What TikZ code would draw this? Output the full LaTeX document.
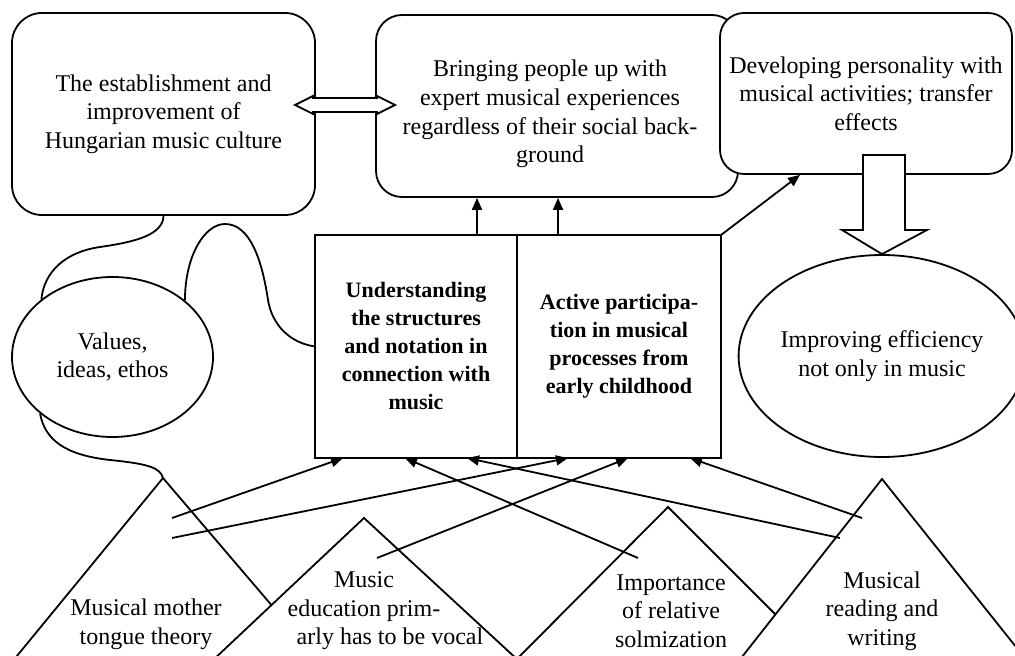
\documentclass[tikz,border=0pt]{standalone}
\usepackage{fontspec}
\setmainfont{Liberation Serif}
\usepackage{tikz}
\usetikzlibrary{positioning, shapes.geometric, arrows.meta}

\begin{document}
\begin{tikzpicture}[
    x=0.5pt, y=-0.5pt,
    line width=0.9pt,
    txt/.style={align=center, inner sep=0pt, font=\fontsize{12}{14.3}\selectfont},
    goal/.style={txt, draw, fill=white, rounded corners=13pt},
    oval/.style={txt, draw, fill=white, ellipse},
    core/.style={txt, draw, rectangle, outer sep=0pt, minimum height=111.5pt, font=\bfseries\fontsize{11}{14}\selectfont},
    tri/.style={draw, fill=white},
    block/.style={draw, fill=white},
    arrow/.style={-{Triangle[length=6pt, width=5pt]}}
]
    \clip (0,0) rectangle (1015,656);

    \node[goal, minimum width=151.5pt, minimum height=101pt, rounded corners=15pt] (culture) at (163.5,114) {The establishment and\\improvement of\\Hungarian music culture};
    \node[goal, minimum width=181pt, minimum height=91pt] (bringing) at (557,106) {};
    \node[txt] (bringingtxt) at (550,114) {Bringing people up with\\expert musical experiences\\regardless of their social back-\\ground};
    \node[goal, minimum width=146pt, minimum height=80.5pt, rounded corners=12pt] (personality) at (866,93.5) {Developing personality with\\musical activities; transfer\\effects};

    \node[core, minimum width=101pt] (notation) at (416,346.5) {Understanding\\the structures\\and notation in\\connection with\\music};
    \node[core, minimum width=102pt, right=0pt of notation] (participation) {Active participa-\\tion in musical\\processes from\\early childhood};

    \node[oval, minimum width=100.5pt, minimum height=80pt] (values) at (112.5,357) {Values,\\ideas, ethos};
    \node[oval, minimum width=139pt, minimum height=101pt] (efficiency) at (882,356) {Improving efficiency\\not only in music};

    \draw (culture.south) .. controls (163,235) and (135,242) .. (100,247) .. controls (65,252) and (44,272) .. (values.141);
    \draw (values.38) .. controls (185,255) and (205,224) .. (225,224) .. controls (250,224) and (262,260) .. (268,300) .. controls (272,325) and (290,343) .. (notation.west);
    \draw (values.218) .. controls (45,440) and (65,455) .. (110,460) .. controls (150,464) and (160,468) .. (163,478);

    \coordinate (mother) at (163,478);
    \coordinate (vocal) at (364,518);
    \coordinate (solfa) at (668,507);
    \coordinate (reading) at (882,479);
    \draw[tri] (12,662) -- (mother) -- (320,662);
    \draw[tri] (211,662) -- (vocal) -- (520,662);
    \draw[tri] (514,662) -- (solfa) -- (823,662);
    \draw[tri] (738,662) -- (reading) -- (1028,662);

    \node[txt] (mothertxt) at (146,624) {Musical mother\\tongue theory};
    \node[txt] (vocaltxt) at (364,611) {Music\\education prim-\\\hspace*{26pt}arly has to be vocal};
    \node[txt] (solfatxt) at (671,611) {Importance\\of relative\\solmization};
    \node[txt] (readingtxt) at (882,611) {Musical\\reading and\\writing};

    \coordinate (m1) at (172,518);
    \coordinate (m2) at (172,538);
    \coordinate (v1) at (377,558);
    \coordinate (s1) at (638,558);
    \coordinate (r1) at (840,538);
    \coordinate (r2) at (862,518);

    \draw[arrow] (m1) -- (343,0 |- notation.south);
    \draw[arrow] (m2) -- (568,0 |- notation.south);
    \draw[arrow] (v1) -- (628,0 |- notation.south);
    \draw[arrow] (s1) -- (405,0 |- notation.south);
    \draw[arrow] (r1) -- (467,0 |- notation.south);
    \draw[arrow] (r2) -- (690,0 |- notation.south);
    \draw[arrow] (477,0 |- notation.north) -- (477,0 |- bringing.south);
    \draw[arrow] (558,0 |- notation.north) -- (558,0 |- bringing.south);
    \draw[arrow] (participation.north east) -- (800,0 |- personality.south);

    \draw[block] (295,105) -- (313,96) -- (313,98) -- (377,98) -- (377,96) -- (395,105) -- (377,114) -- (377,112) -- (313,112) -- (313,114) -- cycle;
    \draw[block] (863,155) -- (905,155) -- (905,230) -- (927,230) -- (efficiency.north) -- (842,230) -- (863,230) -- cycle;
\end{tikzpicture}
\end{document}
